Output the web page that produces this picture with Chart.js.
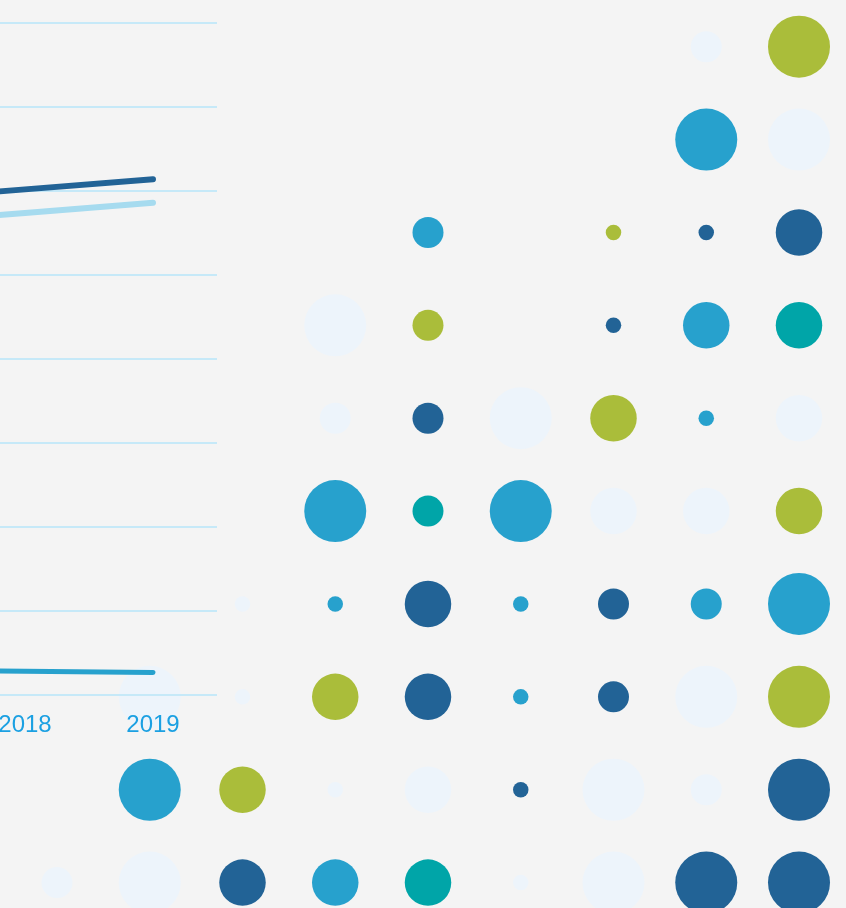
<!DOCTYPE html>
<html>
<head>
<meta charset="utf-8">
<script src="https://cdn.jsdelivr.net/npm/chart.js@4/dist/chart.umd.min.js"></script>
<style>
  html, body { margin: 0; padding: 0; background: #F4F4F4; overflow: hidden; }
  #wrap { position: relative; width: 846px; height: 908px; overflow: hidden; background: #F4F4F4; }
  #bubbles { position: absolute; left: 0; top: 0; }
  #lines { position: absolute; left: -167px; top: 0; }
</style>
</head>
<body>
<div id="wrap">
  <canvas id="bubbles" width="846" height="908"></canvas>
  <canvas id="lines" width="384" height="756"></canvas>
</div>
<script>
// ---- Line chart data ----
const years = ['2017', '2018', '2019'];
const seriesDark = [59.0, 60.2, 61.4];
const seriesLight = [56.2, 57.4, 58.6];
const seriesCyan = [3.0, 2.86, 2.7];
const yTicks = [0, 10, 20, 30, 40, 50, 60, 70, 80];

// ---- Bubble grid data: [column, row, size level] ----
const cyanBubbles = [[7,1,4],[4,2,2],[7,3,3],[7,4,1],[3,5,4],[5,5,4],[3,6,1],[5,6,1],[7,6,2],[8,6,4],[5,7,1],[1,8,4],[3,9,3]];
const darkBubbles = [[7,2,1],[8,2,3],[6,3,1],[4,4,2],[4,6,3],[6,6,2],[4,7,3],[6,7,2],[5,8,1],[8,8,4],[2,9,3],[7,9,4],[8,9,4]];
const greenBubbles = [[8,0,4],[6,2,1],[4,3,2],[6,4,3],[8,5,3],[3,7,3],[8,7,4],[2,8,3]];
const tealBubbles = [[8,3,3],[4,5,2],[4,9,3]];
const paleBubbles = [[7,0,2],[8,1,4],[3,3,4],[3,4,2],[5,4,4],[8,4,3],[6,5,3],[7,5,3],[2,6,1],[1,7,4],[2,7,1],[7,7,4],[3,8,1],[4,8,3],[6,8,4],[7,8,2],[0,9,2],[1,9,4],[5,9,1],[6,9,4]];

const RADIUS_UNIT = 7.75;
const toPoints = arr => arr.map(([c, r, s]) => ({ x: c, y: r, r: s * RADIUS_UNIT }));

const bubbleDs = (data, color) => ({
  data: toPoints(data),
  backgroundColor: color,
  borderWidth: 0,
  hoverBorderWidth: 0,
  clip: false
});

new Chart(document.getElementById('bubbles'), {
  type: 'bubble',
  data: {
    datasets: [
      bubbleDs(paleBubbles, '#EDF4FB'),
      bubbleDs(cyanBubbles, '#27A1CD'),
      bubbleDs(darkBubbles, '#226396'),
      bubbleDs(greenBubbles, '#AABD3A'),
      bubbleDs(tealBubbles, '#00A5A8')
    ]
  },
  options: {
    responsive: false,
    animation: false,
    devicePixelRatio: 1,
    layout: { padding: 0 },
    plugins: { legend: { display: false }, tooltip: { enabled: false } },
    scales: {
      x: { type: 'linear', display: false, min: -0.2803, max: 8.1725 },
      y: { type: 'linear', display: false, reverse: true, min: -0.169, max: 8.9395 }
    }
  }
});

const lineDs = (data, color, w) => ({
  data: data,
  borderColor: color,
  borderWidth: w,
  borderCapStyle: 'round',
  pointRadius: 0,
  tension: 0,
  fill: false
});

new Chart(document.getElementById('lines'), {
  type: 'line',
  data: {
    labels: years,
    datasets: [
      lineDs(seriesLight, '#A6DBEF', 6),
      lineDs(seriesDark, '#226396', 6),
      lineDs(seriesCyan, '#27A1CD', 5)
    ]
  },
  options: {
    responsive: false,
    animation: false,
    devicePixelRatio: 1,
    layout: { padding: { top: 23, left: 0, right: 0, bottom: 0 } },
    plugins: { legend: { display: false }, tooltip: { enabled: false } },
    scales: {
      x: {
        offset: true,
        grid: { display: false, drawTicks: false },
        border: { display: false },
        ticks: {
          color: '#1BA0E2',
          padding: 16,
          font: { family: 'Liberation Sans, Arial, sans-serif', size: 24 }
        }
      },
      y: {
        min: yTicks[0],
        max: yTicks[yTicks.length - 1],
        afterBuildTicks: axis => { axis.ticks = yTicks.map(v => ({ value: v })); },
        grid: { color: '#C6E9F8', lineWidth: 2, drawTicks: false },
        border: { display: false },
        ticks: { display: false }
      }
    }
  }
});
</script>
</body>
</html>
